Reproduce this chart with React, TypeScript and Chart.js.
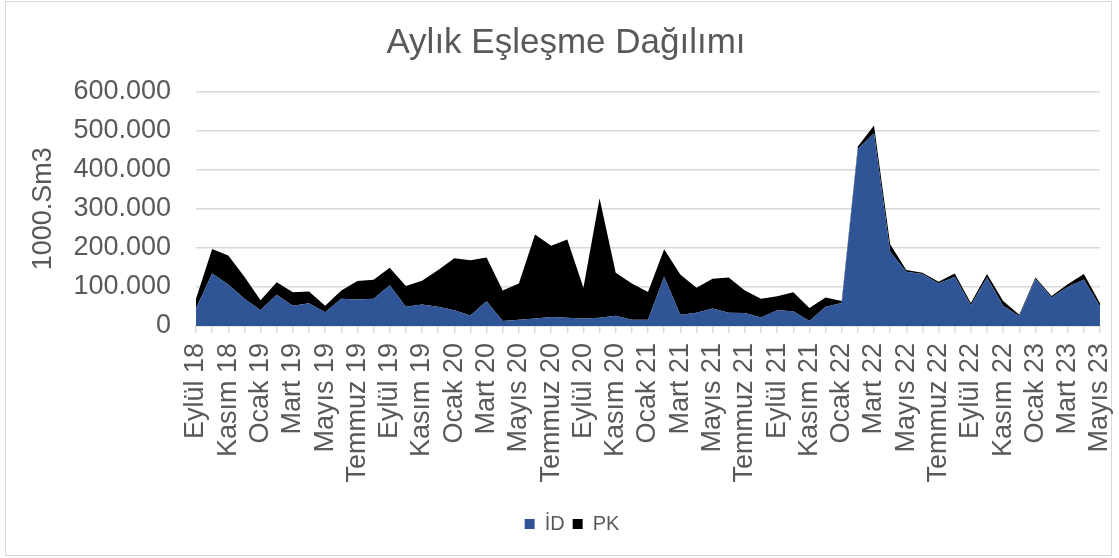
import { useEffect, useRef } from 'react';
import { Chart, registerables } from 'chart.js';

Chart.register(...registerables);

const chartTitle = 'Aylık Eşleşme Dağılımı';
const yAxisTitle = '1000.Sm3';

const months = [
  'Eylül 18', 'Ekim 18', 'Kasım 18', 'Aralık 18',
  'Ocak 19', 'Şubat 19', 'Mart 19', 'Nisan 19', 'Mayıs 19', 'Haziran 19', 'Temmuz 19', 'Ağustos 19', 'Eylül 19', 'Ekim 19', 'Kasım 19', 'Aralık 19',
  'Ocak 20', 'Şubat 20', 'Mart 20', 'Nisan 20', 'Mayıs 20', 'Haziran 20', 'Temmuz 20', 'Ağustos 20', 'Eylül 20', 'Ekim 20', 'Kasım 20', 'Aralık 20',
  'Ocak 21', 'Şubat 21', 'Mart 21', 'Nisan 21', 'Mayıs 21', 'Haziran 21', 'Temmuz 21', 'Ağustos 21', 'Eylül 21', 'Ekim 21', 'Kasım 21', 'Aralık 21',
  'Ocak 22', 'Şubat 22', 'Mart 22', 'Nisan 22', 'Mayıs 22', 'Haziran 22', 'Temmuz 22', 'Ağustos 22', 'Eylül 22', 'Ekim 22', 'Kasım 22', 'Aralık 22',
  'Ocak 23', 'Şubat 23', 'Mart 23', 'Nisan 23', 'Mayıs 23',
];

// İD (blue) values, 1000.Sm3
const idValues = [
  45000, 134000, 106000, 70000,
  40000, 80000, 52000, 58000, 35000, 70000, 68000, 70000, 104000, 49000, 55000, 49000,
  40000, 27000, 63000, 13000, 16000, 19000, 23000, 21000, 19000, 21000, 26000, 16000,
  16000, 126000, 29000, 34000, 45000, 34000, 33000, 22000, 40000, 38000, 13000, 49000,
  59000, 453000, 493000, 190000, 139000, 133000, 109000, 126000, 53000, 124000, 52000, 25000,
  120000, 73000, 100000, 119000, 50000,
];

// PK (black) values stacked on top of İD, 1000.Sm3
const pkValues = [
  25000, 63000, 74000, 56000,
  26000, 32000, 34000, 30000, 17000, 21000, 47000, 48000, 45000, 53000, 61000, 94000,
  133000, 141000, 112000, 78000, 93000, 215000, 182000, 200000, 79000, 306000, 110000, 93000,
  71000, 70000, 103000, 64000, 76000, 90000, 58000, 48000, 36000, 48000, 33000, 24000,
  5000, 6000, 20000, 19000, 4000, 3000, 4000, 8000, 6000, 9000, 12000, 4000,
  4000, 4000, 7000, 14000, 8000,
];

const yMin = 0;
const yMax = 600000;
const yStep = 100000;

const FONT = "'Liberation Sans', Arial, sans-serif";
const TEXT = '#595959';
const GRID = '#d9d9d9';

function formatThousands(v: number): string {
  return String(Math.round(v)).replace(/\B(?=(\d{3})+(?!\d))/g, '.');
}

const blockShift = {
  id: 'blockShift',
  afterLayout(chart: any) {
    const lg = chart.legend;
    if (lg) {
      lg.left += 22;
      lg.right += 22;
    }
    const tb = chart.titleBlock;
    if (tb) {
      tb.left += 16;
      tb.right += 16;
    }
  },
};

export default function App() {
  const canvasRef = useRef<HTMLCanvasElement | null>(null);

  useEffect(() => {
    if (!canvasRef.current) return;
    const chart = new Chart(canvasRef.current, {
      type: 'line',
      data: {
        labels: months,
        datasets: [
          {
            label: 'İD',
            data: idValues,
            backgroundColor: '#2f5597',
            borderColor: '#2f5597',
            borderWidth: 0,
            pointRadius: 0,
            fill: 'origin',
            tension: 0,
          },
          {
            label: 'PK',
            data: pkValues,
            backgroundColor: '#000000',
            borderColor: '#000000',
            borderWidth: 0,
            pointRadius: 0,
            fill: '-1',
            tension: 0,
          },
        ],
      },
      plugins: [blockShift],
      options: {
        animation: false,
        responsive: true,
        maintainAspectRatio: false,
        layout: { padding: { left: 0, right: 19, top: 0, bottom: 14 } },
        plugins: {
          title: {
            display: true,
            text: chartTitle,
            color: TEXT,
            font: { family: FONT, size: 35, weight: 'normal' },
            padding: { top: 22, bottom: 27.4 },
          },
          legend: {
            position: 'bottom',
            labels: {
              color: TEXT,
              font: { family: FONT, size: 20 },
              boxWidth: 10,
              boxHeight: 10,
              padding: 8,
            },
          },
          tooltip: { enabled: false },
        },
        scales: {
          x: {
            offset: false,
            grid: {
              display: true,
              drawOnChartArea: false,
              drawTicks: true,
              tickLength: 7,
              color: GRID,
              lineWidth: 1.5,
            },
            border: { display: true, color: GRID, width: 1.5 },
            ticks: {
              autoSkip: false,
              maxRotation: 90,
              minRotation: 90,
              padding: 10,
              color: TEXT,
              font: { family: FONT, size: 27 },
              callback: (_v: any, i: number) => (i % 2 === 0 ? months[i] : ''),
            },
            afterFit: (s: any) => {
              s.height = 180;
              s.paddingLeft = 0;
              s.paddingRight = 0;
            },
          },
          y: {
            stacked: true,
            min: yMin,
            max: yMax,
            grid: { color: GRID, lineWidth: 1.5, drawTicks: false },
            border: { display: false },
            ticks: {
              stepSize: yStep,
              padding: 25,
              color: TEXT,
              font: { family: FONT, size: 27 },
              callback: (v: any) => formatThousands(Number(v)),
            },
            title: {
              display: true,
              text: yAxisTitle,
              color: TEXT,
              font: { family: FONT, size: 27 },
              padding: { top: 27, bottom: 0 },
            },
            afterFit: (s: any) => {
              s.width = 196;
            },
          },
        },
      },
    });
    return () => chart.destroy();
  }, []);

  return (
    <div style={{ position: 'absolute', left: 0, top: 0, width: 1119, height: 558, background: '#ffffff' }}>
      <div
        style={{
          position: 'absolute',
          left: 5,
          top: 1,
          width: 1107,
          height: 555,
          border: '1.5px solid #d9d9d9',
          boxSizing: 'border-box',
          pointerEvents: 'none',
        }}
      />
      <canvas ref={canvasRef} style={{ position: 'absolute', left: 0, top: 0, width: 1119, height: 558 }} />
    </div>
  );
}
